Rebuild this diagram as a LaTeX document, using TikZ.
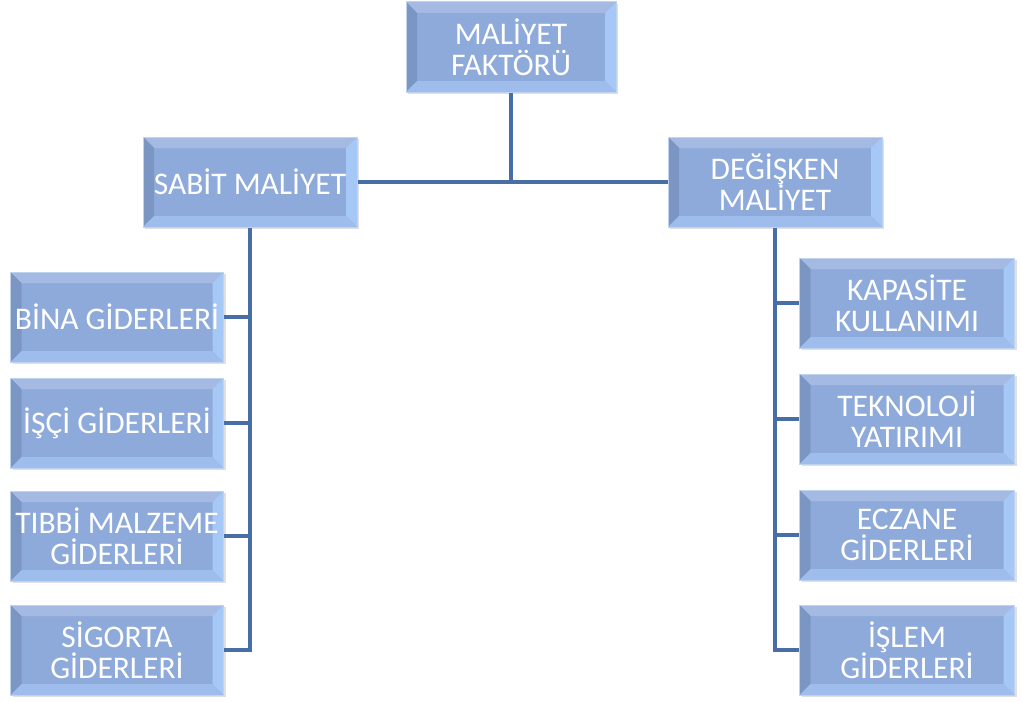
\documentclass[tikz,border=0pt]{standalone}
\usepackage{fontspec}
\setmainfont{Carlito}
\usetikzlibrary{shadows,calc}
\definecolor{boxmid}{RGB}{142,170,219}
\definecolor{boxtop}{RGB}{164,186,226}
\definecolor{boxleft}{RGB}{124,150,196}
\definecolor{boxright}{RGB}{166,200,246}
\definecolor{boxbot}{RGB}{158,188,236}
\definecolor{boxedge}{RGB}{192,211,238}
\definecolor{linecol}{RGB}{72,110,168}
\tikzset{
  bevelbox/.style={minimum width=213pt, minimum height=90pt, inner sep=0pt,
    fill=boxmid, draw=boxedge, line width=1pt, text=white, align=center,
    font=\fontsize{31.5}{31}\selectfont,
    drop shadow={opacity=0.25, shadow xshift=2pt, shadow yshift=-2pt},
    path picture={
      \coordinate (NW) at (path picture bounding box.north west);
      \coordinate (NE) at (path picture bounding box.north east);
      \coordinate (SW) at (path picture bounding box.south west);
      \coordinate (SE) at (path picture bounding box.south east);
      \fill[boxtop] (NW) -- (NE) -- ($(NE)+(-11pt,-11pt)$) -- ($(NW)+(11pt,-11pt)$) -- cycle;
      \fill[boxleft] (NW) -- ($(NW)+(11pt,-11pt)$) -- ($(SW)+(11pt,11pt)$) -- (SW) -- cycle;
      \fill[boxright] (NE) -- ($(NE)+(-11pt,-11pt)$) -- ($(SE)+(-11pt,11pt)$) -- (SE) -- cycle;
      \fill[boxbot] (SW) -- ($(SW)+(11pt,11pt)$) -- ($(SE)+(-11pt,11pt)$) -- (SE) -- cycle;
    }},
  conn/.style={draw=linecol, line width=3.5pt}
}
\begin{document}
\begin{tikzpicture}[x=1pt,y=-1pt]
\useasboundingbox (0,0) rectangle (1022,701);
\node[bevelbox, minimum width=210pt] (top) at (511,47) {MALİYET\\FAKTÖRÜ};
\node[bevelbox, minimum width=214pt] (sabit) at (250,182) {SABİT MALİYET};
\node[bevelbox, minimum width=214pt] (degisken) at (775,182) {DEĞİŞKEN\\MALİYET};
\node[bevelbox] (bina) at (117,317) {BİNA GİDERLERİ};
\node[bevelbox] (isci) at (117,423) {İŞÇİ GİDERLERİ};
\node[bevelbox] (tibbi) at (117,536) {TIBBİ MALZEME\\GİDERLERİ};
\node[bevelbox] (sig) at (117,650) {SİGORTA\\GİDERLERİ};
\node[bevelbox, minimum width=215pt] (kap) at (907,303) {KAPASİTE\\KULLANIMI};
\node[bevelbox, minimum width=215pt] (tek) at (907,419) {TEKNOLOJİ\\YATIRIMI};
\node[bevelbox, minimum width=215pt] (ecz) at (907,535) {ECZANE\\GİDERLERİ};
\node[bevelbox, minimum width=215pt] (isl) at (907,650) {İŞLEM\\GİDERLERİ};
\draw[conn] (top.south) -- (top.south |- sabit.east);
\draw[conn] (sabit.east) -- (degisken.west);
\draw[conn] (sabit.south) -- (sabit.south |- sig.east) -- (sig.east);
\draw[conn] (bina.east) -- (bina.east -| sabit.south);
\draw[conn] (isci.east) -- (isci.east -| sabit.south);
\draw[conn] (tibbi.east) -- (tibbi.east -| sabit.south);
\draw[conn] (degisken.south) -- (degisken.south |- isl.west) -- (isl.west);
\draw[conn] (kap.west) -- (kap.west -| degisken.south);
\draw[conn] (tek.west) -- (tek.west -| degisken.south);
\draw[conn] (ecz.west) -- (ecz.west -| degisken.south);
\end{tikzpicture}
\end{document}
